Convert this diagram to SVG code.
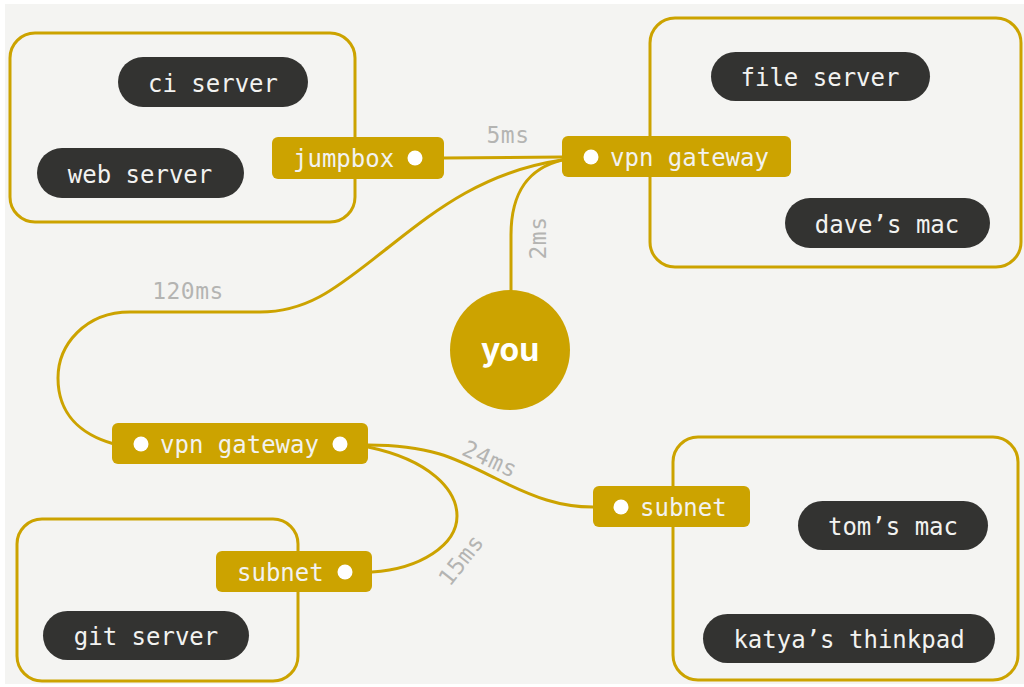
<svg xmlns="http://www.w3.org/2000/svg" width="1024" height="687" viewBox="0 0 1024 687">
  <style>
    .frame { fill: none; stroke: #cca300; stroke-width: 3; }
    .pill { fill: #333331; }
    .tag { fill: #cca300; }
    .dot { fill: #ffffff; }
    .wire { fill: none; stroke: #cca300; stroke-width: 3; stroke-linecap: round; }
    .txt { font-family: "DejaVu Sans Mono", "Liberation Mono", monospace; font-size: 24px; fill: #f2f2f0; }
    .mid { text-anchor: middle; }
    .lat { font-family: "DejaVu Sans Mono", "Liberation Mono", monospace; font-size: 23px; letter-spacing: 0.5px; fill: #b4b4b2; text-anchor: middle; }
    .you { font-family: Inter, "Liberation Sans", sans-serif; font-weight: 700; font-size: 32px; fill: #ffffff; text-anchor: middle; }
  </style>

  <rect x="0" y="0" width="1024" height="687" fill="#ffffff"/>
  <rect x="5" y="4" width="1019" height="680" fill="#f4f4f2"/>

  <!-- network frames -->
  <g id="frames">
    <rect id="net-office" class="frame" x="10" y="33" width="345" height="189" rx="25"/>
    <rect id="net-vpn" class="frame" x="650" y="18" width="371" height="249" rx="25"/>
    <rect id="net-git" class="frame" x="17" y="519" width="281" height="162" rx="25"/>
    <rect id="net-home" class="frame" x="673" y="437" width="345" height="243" rx="25"/>
  </g>

  <!-- links with latencies -->
  <g id="connectors">
    <path class="wire" d="M444,158 L562,157"/>
    <path class="wire" d="M562,160 C530,168 511,190 511,235 L511,292"/>
    <path class="wire" d="M562,160 C480,172 430,215 385,250 C340,285 310,312 260,312 L130,312 C85,312 58,345 58,378 C58,415 82,435 114,444"/>
    <path class="wire" d="M368,445 C430,445 455,458 495,478 C535,498 560,507 593,507"/>
    <path class="wire" d="M368,447 C430,460 457,490 457,516 C457,545 420,569 372,572"/>
    <text class="lat" x="508" y="143">5ms</text>
    <text class="lat" transform="translate(538,238) rotate(-90)" y="8">2ms</text>
    <text class="lat" x="188" y="299">120ms</text>
    <text class="lat" transform="translate(490,459) rotate(25)" y="8">24ms</text>
    <text class="lat" transform="translate(461,560) rotate(-52)" y="8">15ms</text>
  </g>

  <g id="ci-server">
    <rect class="pill" x="118" y="57" width="190" height="50" rx="25"/>
    <text class="txt mid" x="213" y="92">ci server</text>
  </g>
  <g id="web-server">
    <rect class="pill" x="37" y="148" width="207" height="50" rx="25"/>
    <text class="txt mid" x="140" y="183">web server</text>
  </g>
  <g id="jumpbox">
    <rect class="tag" x="272" y="137" width="172" height="42" rx="6"/>
    <text class="txt" x="293" y="167">jumpbox</text>
    <circle class="dot" cx="415" cy="158" r="7.5"/>
  </g>

  <g id="file-server">
    <rect class="pill" x="711" y="52" width="219" height="49" rx="24.5"/>
    <text class="txt mid" x="820" y="86">file server</text>
  </g>
  <g id="daves-mac">
    <rect class="pill" x="785" y="198" width="205" height="50" rx="25"/>
    <text class="txt mid" x="887" y="233">dave’s mac</text>
  </g>
  <g id="vpn-gateway-a">
    <rect class="tag" x="562" y="136" width="229" height="41" rx="6"/>
    <circle class="dot" cx="591" cy="157" r="7.5"/>
    <text class="txt" x="610" y="166">vpn gateway</text>
  </g>

  <g id="you">
    <circle cx="510" cy="350" r="60" fill="#cca300"/>
    <text class="you" x="510" y="361">you</text>
  </g>

  <g id="vpn-gateway-b">
    <rect class="tag" x="112" y="423" width="256" height="41" rx="6"/>
    <circle class="dot" cx="141" cy="444" r="7.5"/>
    <text class="txt" x="160" y="453">vpn gateway</text>
    <circle class="dot" cx="340" cy="444" r="7.5"/>
  </g>

  <g id="subnet-git">
    <rect class="tag" x="216" y="551" width="156" height="41" rx="6"/>
    <text class="txt" x="237" y="581">subnet</text>
    <circle class="dot" cx="345" cy="572" r="7.5"/>
  </g>
  <g id="git-server">
    <rect class="pill" x="43" y="611" width="206" height="49" rx="24.5"/>
    <text class="txt mid" x="146" y="645">git server</text>
  </g>

  <g id="subnet-home">
    <rect class="tag" x="593" y="486" width="157" height="41" rx="6"/>
    <circle class="dot" cx="621" cy="507" r="7.5"/>
    <text class="txt" x="640" y="516">subnet</text>
  </g>
  <g id="toms-mac">
    <rect class="pill" x="798" y="501" width="190" height="49" rx="24.5"/>
    <text class="txt mid" x="893" y="535">tom’s mac</text>
  </g>
  <g id="katyas-thinkpad">
    <rect class="pill" x="703" y="614" width="292" height="49" rx="24.5"/>
    <text class="txt mid" x="849" y="648">katya’s thinkpad</text>
  </g>
</svg>
